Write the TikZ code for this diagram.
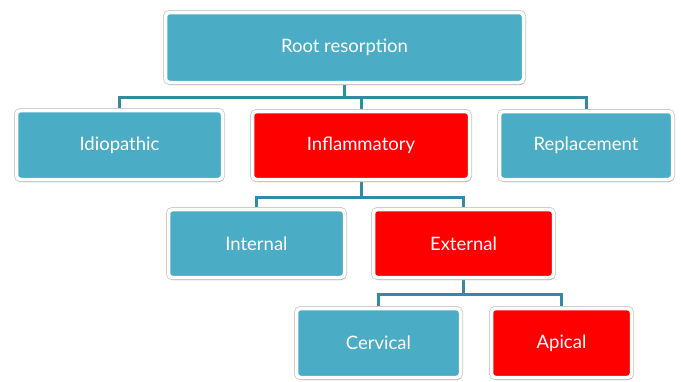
\documentclass[tikz,border=0pt]{standalone}
\usepackage{fontspec}
\setmainfont{Lato}
\usetikzlibrary{shadows,backgrounds}
\definecolor{boxblue}{RGB}{75,172,198}
\definecolor{boxred}{RGB}{255,0,0}
\definecolor{linkteal}{RGB}{52,138,160}
\tikzset{
  box/.style={rectangle, rounded corners=4pt, draw=white, line width=3.5pt,
    text=white, font=\fontsize{18.5}{22}\selectfont,
    preaction={draw=black!22, line width=5pt},
    drop shadow={shadow xshift=1pt, shadow yshift=-2.5pt, opacity=0.4},
    inner sep=0pt},
  bluebox/.style={box, fill=boxblue},
  redbox/.style={box, fill=boxred},
  link/.style={draw=linkteal, line width=3pt}
}
\begin{document}
\begin{tikzpicture}[x=1pt,y=-1pt]
        \useasboundingbox (0,0) rectangle (681,381);
        % top level
        \node[bluebox, minimum width=358pt, minimum height=70pt] (root) at (344.5,47.5) {Root resorption};
        % second row
        \node[bluebox, minimum width=206pt, minimum height=69pt] (idio) at (119.5,145) {Idiopathic};
        \node[redbox, minimum width=217pt, minimum height=68pt] (infl) at (361,145.5) {Inflammatory};
        \node[bluebox, minimum width=173pt, minimum height=68pt] (repl) at (586,145.5) {Replacement};
        % third row
        \node[bluebox, minimum width=176pt, minimum height=68pt] (intl) at (256.5,243.5) {Internal};
        \node[redbox, minimum width=180pt, minimum height=68pt] (extl) at (463.5,243.5) {External};
        % fourth row
        \node[bluebox, minimum width=164pt, minimum height=69pt] (cerv) at (378.5,343) {Cervical};
        \node[redbox, minimum width=140pt, minimum height=69pt] (apic) at (561.5,343) {Apical};
        \begin{pgfonlayer}{background}
        \foreach \c in {idio,infl,repl}
          \draw[link] (root.south) -- ++(0,13.5) -| (\c.north);
        \foreach \c in {intl,extl}
          \draw[link] (infl.south) -- ++(0,16.5) -| (\c.north);
        \foreach \c in {cerv,apic}
          \draw[link] (extl.south) -- ++(0,15.5) -| (\c.north);
        \end{pgfonlayer}
\end{tikzpicture}
\end{document}
